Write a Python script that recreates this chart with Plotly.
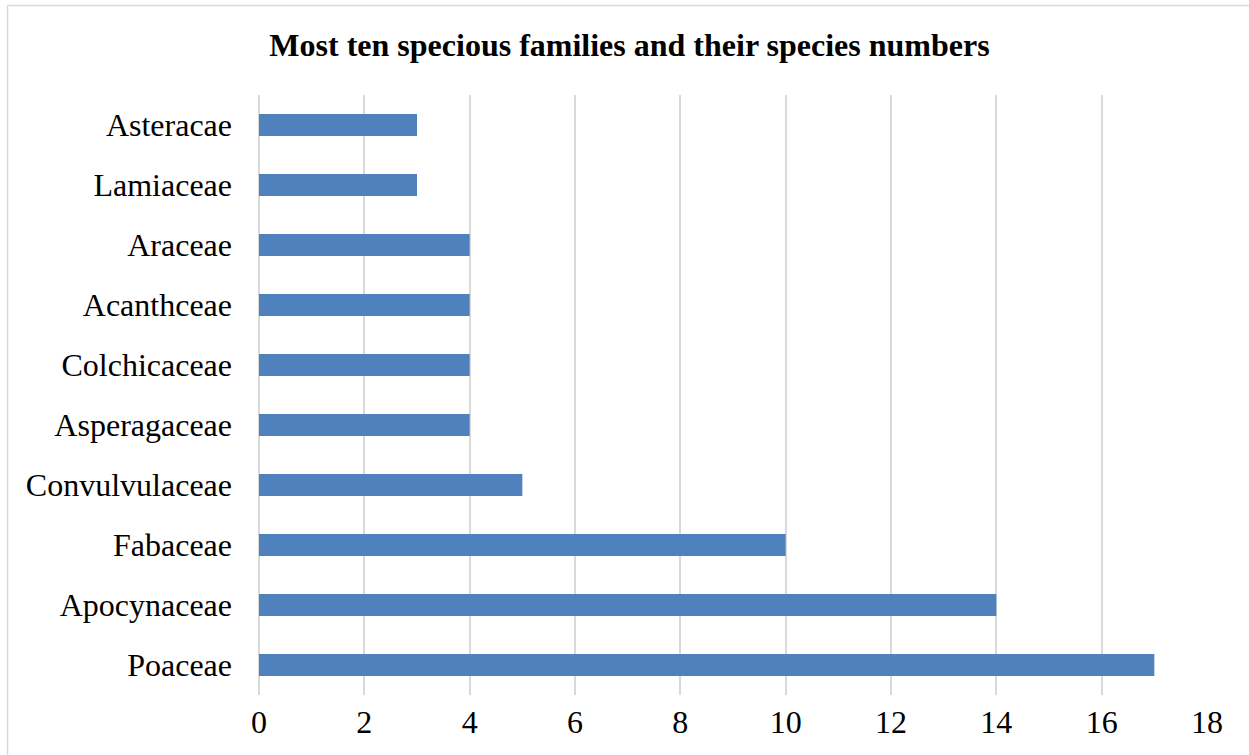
import plotly.graph_objects as go

# Families listed bottom-to-top (Plotly places the first category at the bottom)
families = [
    "Poaceae", "Apocynaceae", "Fabaceae", "Convulvulaceae", "Asperagaceae",
    "Colchicaceae", "Acanthceae", "Araceae", "Lamiaceae", "Asteracae",
]
species_counts = [17, 14, 10, 5, 4, 4, 4, 4, 3, 3]
x_ticks = [0, 2, 4, 6, 8, 10, 12, 14, 16, 18]

W, H = 1249, 755
L, R, T, B = 259, 42, 95, 60
pw, ph = W - L - R, H - T - B

fig = go.Figure(
    go.Bar(
        x=species_counts,
        y=families,
        orientation="h",
        marker=dict(color="#4F81BD", line=dict(width=0)),
    )
)

serif = "Liberation Serif, Times New Roman, serif"

fig.update_layout(
    width=W,
    height=H,
    margin=dict(l=L, r=R, t=T, b=B),
    paper_bgcolor="white",
    plot_bgcolor="white",
    bargap=0.63,
    showlegend=False,
    font=dict(family=serif, color="black", size=32),
    title=dict(
        text="<b>Most ten specious families and their species numbers</b>",
        font=dict(family=serif, size=32, color="black"),
        x=629.5 / W,
        xref="container",
        xanchor="center",
        y=1 - 45 / H,
        yref="container",
        yanchor="middle",
    ),
    xaxis=dict(
        range=[0, 18],
        tickvals=x_ticks,
        showgrid=True,
        gridcolor="#D9D9D9",
        gridwidth=1.5,
        zeroline=True,
        zerolinecolor="#D9D9D9",
        zerolinewidth=1.5,
        showline=False,
        ticks="",
        ticklabelstandoff=5,
        tickfont=dict(size=32),
    ),
    yaxis=dict(
        categoryorder="array",
        categoryarray=families,
        showgrid=False,
        showline=False,
        ticks="",
        ticklabelstandoff=26,
        tickfont=dict(size=32),
    ),
    shapes=[
        dict(
            type="rect",
            xref="paper",
            yref="paper",
            x0=(7.5 - L) / pw,
            x1=(W + 10 - L) / pw,
            y0=(T + ph - (H + 10)) / ph,
            y1=(T + ph - 5.5) / ph,
            line=dict(color="#D9D9D9", width=1.5),
            fillcolor="rgba(0,0,0,0)",
        )
    ],
)

fig.write_html("out.html")
